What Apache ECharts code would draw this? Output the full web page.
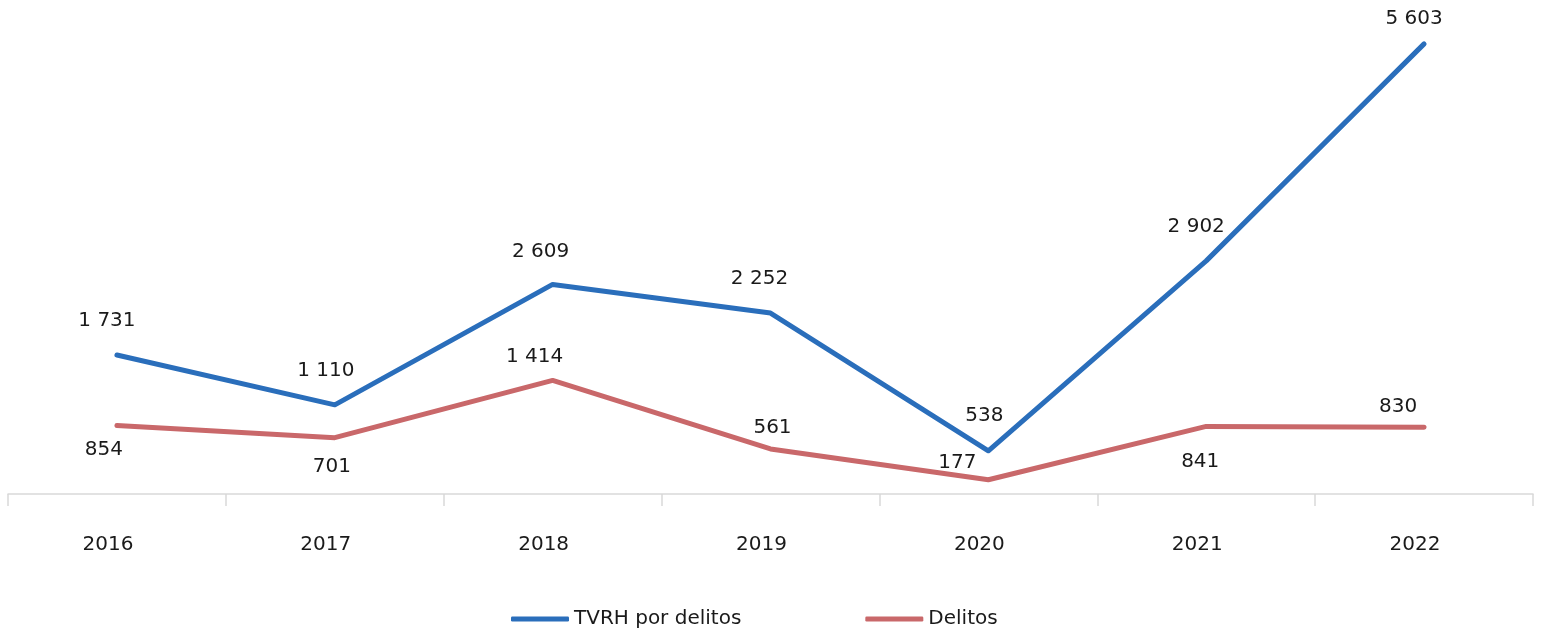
<!DOCTYPE html>
<html><head><meta charset="utf-8">
<script src="https://cdn.jsdelivr.net/npm/echarts@6/dist/echarts.min.js"></script>
<style>html,body{margin:0;padding:0;background:#fff}#c{width:1544px;height:631px}</style>
</head><body><div id="c"></div>
<script>
const categories = ['2016','2017','2018','2019','2020','2021','2022'];
const tvrh = [1731, 1110, 2609, 2252, 538, 2902, 5603];
const delitos = [854, 701, 1414, 561, 177, 841, 830];
const seriesNames = ['TVRH por delitos', 'Delitos'];

const blueOffsets = [[-10,-34],[-9,-34],[-12,-33],[-11,-34],[-4,-35],[-10,-34],[-10,-25]];
const redOffsets = [[-13,24],[-3,29],[-18,-24],[2,-21],[-31,-17],[-6,35],[-26,-21]];

const fmt = v => String(v).replace(/\B(?=(\d{3})+(?!\d))/g, ' ');
const FONT = 'DejaVu Sans';

function mk(vals, offs) {
  return vals.map((v, i) => ({ value: v, label: { offset: offs[i] } }));
}

const chart = echarts.init(document.getElementById('c'));
chart.setOption({
  animation: false,
  textStyle: { fontFamily: FONT },
  grid: { left: 8, right: 11, top: 12, bottom: 137 },
  xAxis: {
    type: 'category', data: categories, boundaryGap: true,
    axisLine: { lineStyle: { color: '#d9d9d9', width: 1.5 } },
    axisTick: { show: true, length: 12, lineStyle: { color: '#d9d9d9', width: 1.5 } },
    axisLabel: { color: '#1a1a1a', fontSize: 20, margin: 41, fontFamily: FONT, padding: [0, 18, 0, 0] }
  },
  yAxis: { type: 'value', min: 0, max: 6000, show: false, splitLine: { show: false } },
  legend: {
    left: 506, bottom: -3, itemWidth: 58, itemHeight: 5, itemGap: 124, icon: 'roundRect',
    textStyle: { fontSize: 20, color: '#1a1a1a', fontFamily: FONT },
    data: seriesNames
  },
  series: [
    {
      name: seriesNames[0], type: 'line', data: mk(tvrh, blueOffsets),
      symbol: 'circle', symbolSize: 0.1, showSymbol: true,
      lineStyle: { color: '#2a6ebb', width: 5, cap: 'round', join: 'round' }, itemStyle: { color: '#2a6ebb' },
      label: { show: true, position: 'inside', fontSize: 20, color: '#1a1a1a', fontFamily: FONT, formatter: p => fmt(p.value) }
    },
    {
      name: seriesNames[1], type: 'line', data: mk(delitos, redOffsets),
      symbol: 'circle', symbolSize: 0.1, showSymbol: true,
      lineStyle: { color: '#c9686a', width: 5, cap: 'round', join: 'round' }, itemStyle: { color: '#c9686a' },
      label: { show: true, position: 'inside', fontSize: 20, color: '#1a1a1a', fontFamily: FONT, formatter: p => fmt(p.value) }
    }
  ]
});
</script></body></html>
